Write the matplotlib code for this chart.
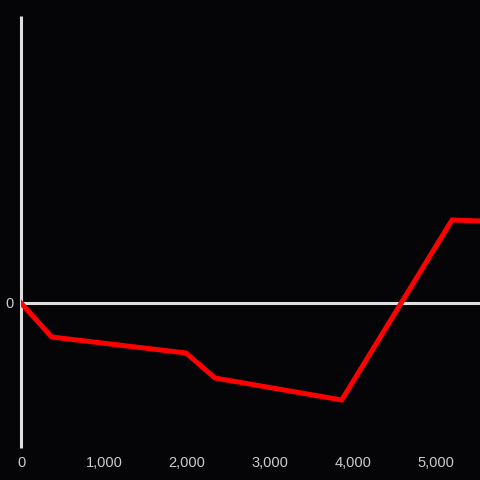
import numpy as np
import matplotlib
matplotlib.use('Agg')
import matplotlib.pyplot as plt

# values (y in arbitrary units, zero at the baseline)
x_vals = [0, 370, 1988, 2337, 3864, 5193, 5530]
y_vals = [0, -34, -50, -75, -97, 83, 82]
x_ticks = [0, 1000, 2000, 3000, 4000, 5000]
x_tick_labels = ['0', '1,000', '2,000', '3,000', '4,000', '5,000']

bg = '#050508'
axis_col = '#e0e0e0'
text_col = '#cccccc'

plt.rcParams['font.family'] = ['Liberation Sans', 'DejaVu Sans']

fig = plt.figure(figsize = (4.8, 4.8), dpi = 100, facecolor = bg)
ax = fig.add_axes([21 / 480, 32 / 480, 459 / 480, 432 / 480])
ax.set_facecolor(bg)

ax.plot(x_vals, y_vals, color = '#ff0000', linewidth = 3.6, solid_joinstyle = 'miter', zorder = 3)
ax.axhline(0, color = axis_col, linewidth = 2.2, zorder = 2)
ax.axvline(0, color = axis_col, linewidth = 2.2, zorder = 2, clip_on = False, solid_capstyle = 'butt')

ax.set_xlim(0, 5530)
ax.set_ylim(-145, 287)

for s in ax.spines.values():
    s.set_visible(False)

ax.set_xticks(x_ticks)
ax.set_xticklabels(x_tick_labels)
ax.set_yticks([0])
ax.set_yticklabels(['0'])
ax.tick_params(axis = 'both', length = 0, colors = text_col, labelsize = 10.5)
ax.tick_params(axis = 'x', pad = 6)
ax.tick_params(axis = 'y', pad = 5)

fig.savefig('out.png', dpi = 100, facecolor = bg)
